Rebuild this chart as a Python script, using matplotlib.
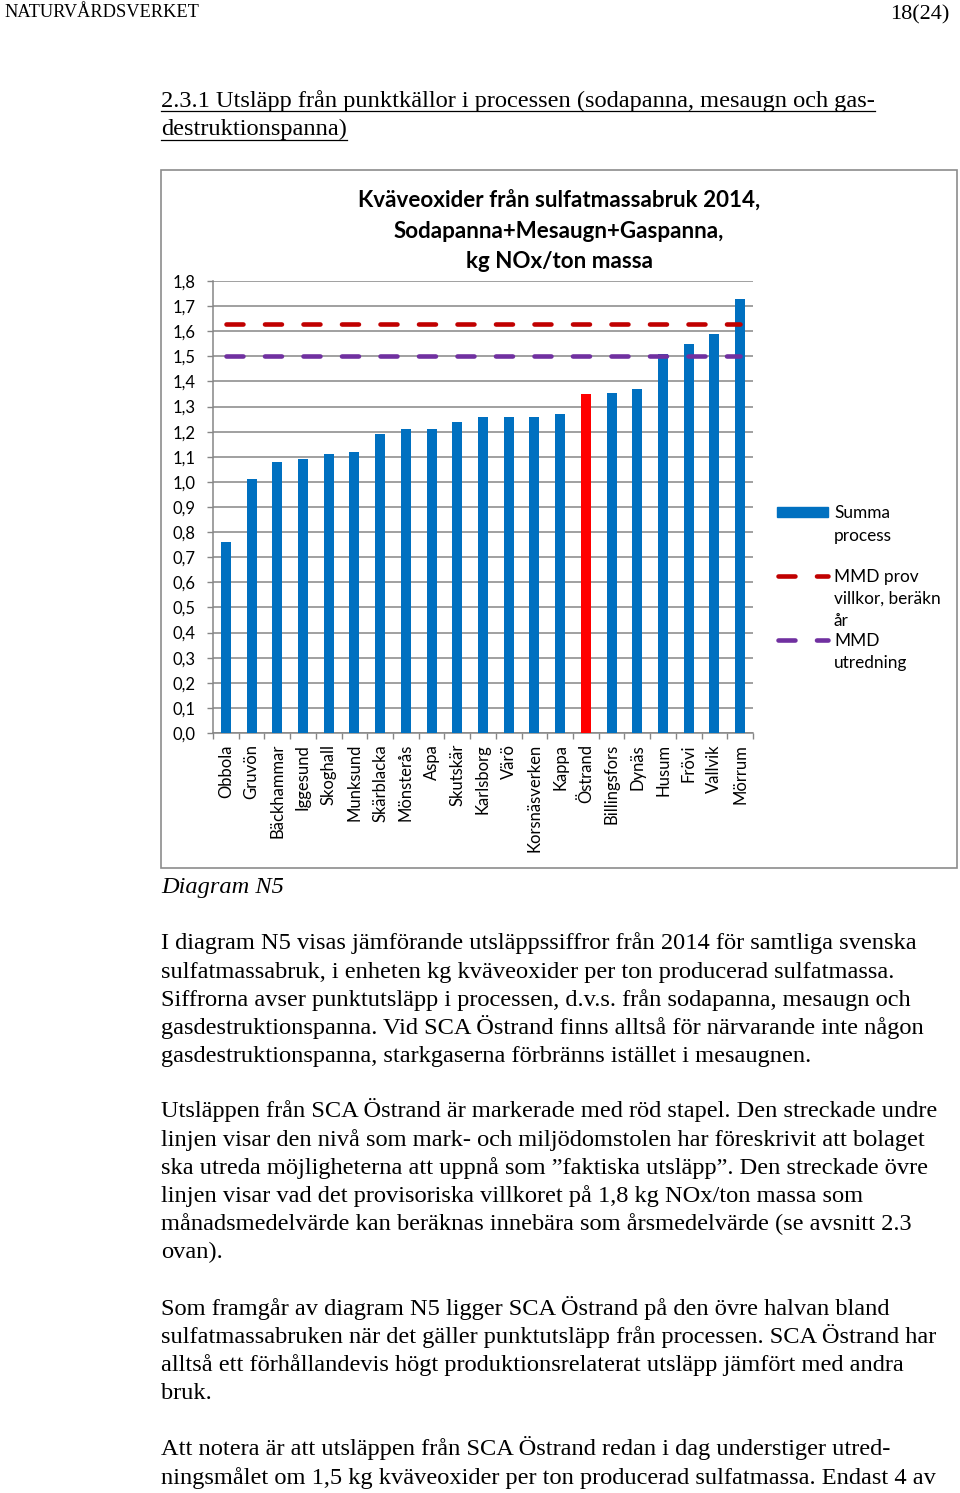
import matplotlib
matplotlib.use("Agg")
import matplotlib.pyplot as plt
from matplotlib.patches import Rectangle
from matplotlib.lines import Line2D
import numpy as np

# data
bruk = ["Obbola", "Gruvön", "Bäckhammar", "Iggesund", "Skoghall", "Munksund",
        "Skärblacka", "Mönsterås", "Aspa", "Skutskär", "Karlsborg", "Värö",
        "Korsnäsverken", "Kappa", "Östrand", "Billingsfors", "Dynäs", "Husum",
        "Frövi", "Vallvik", "Mörrum"]
summa_process = [0.76, 1.01, 1.08, 1.09, 1.11, 1.12, 1.19, 1.21, 1.21, 1.24,
                 1.26, 1.26, 1.26, 1.27, 1.35, 1.355, 1.37, 1.51, 1.55, 1.59, 1.73]
mmd_prov = [1.63] * len(bruk)
mmd_utredning = [1.50] * len(bruk)
markerat = "Östrand"
yticks = [0.0, 0.1, 0.2, 0.3, 0.4, 0.5, 0.6, 0.7, 0.8, 0.9,
          1.0, 1.1, 1.2, 1.3, 1.4, 1.5, 1.6, 1.7, 1.8]

titel = ["Kväveoxider från sulfatmassabruk 2014,",
         "Sodapanna+Mesaugn+Gaspanna,",
         "kg NOx/ton massa"]
rubrik = ["2.3.1 Utsläpp från punktkällor i processen (sodapanna, mesaugn och gas-",
          "destruktionspanna)"]
stycken = [
    ["I diagram N5 visas jämförande utsläppssiffror från 2014 för samtliga svenska",
     "sulfatmassabruk, i enheten kg kväveoxider per ton producerad sulfatmassa.",
     "Siffrorna avser punktutsläpp i processen, d.v.s. från sodapanna, mesaugn och",
     "gasdestruktionspanna. Vid SCA Östrand finns alltså för närvarande inte någon",
     "gasdestruktionspanna, starkgaserna förbränns istället i mesaugnen."],
    ["Utsläppen från SCA Östrand är markerade med röd stapel. Den streckade undre",
     "linjen visar den nivå som mark- och miljödomstolen har föreskrivit att bolaget",
     "ska utreda möjligheterna att uppnå som ”faktiska utsläpp”. Den streckade övre",
     "linjen visar vad det provisoriska villkoret på 1,8 kg NOx/ton massa som",
     "månadsmedelvärde kan beräknas innebära som årsmedelvärde (se avsnitt 2.3",
     "ovan)."],
    ["Som framgår av diagram N5 ligger SCA Östrand på den övre halvan bland",
     "sulfatmassabruken när det gäller punktutsläpp från processen. SCA Östrand har",
     "alltså ett förhållandevis högt produktionsrelaterat utsläpp jämfört med andra",
     "bruk."],
    ["Att notera är att utsläppen från SCA Östrand redan i dag understiger utred-",
     "ningsmålet om 1,5 kg kväveoxider per ton producerad sulfatmassa. Endast 4 av"],
]
stycke_start = [942, 1110, 1307, 1448]

W, H = 960, 1493
BLA = "#0070C0"
ROD_STAPEL = "#FF0000"
ROD = "#C00000"
LILA = "#7030A0"
GRA = "#868686"
SERIF = "Liberation Serif"
SANS = "Lato"
BROD = 17.6
AXEL = 12


def fx(x):
    return x / W


def fy(y):
    return 1 - y / H


fig = plt.figure(figsize=(W / 100, H / 100), dpi=100)
fig.patch.set_facecolor("white")

# sidhuvud
fig.text(fx(4), fy(17), "NATURVÅRDSVERKET", family=SERIF, fontsize=13.2, va="baseline")
fig.text(fx(949), fy(19), "18(24)", family=SERIF, fontsize=16, ha="right", va="baseline")

# rubrik med understrykning
rubrik_text = []
for i, rad in enumerate(rubrik):
    t = fig.text(fx(161), fy(107 + 28 * i), rad, family=SERIF, fontsize=BROD, va="baseline")
    rubrik_text.append(t)

# diagramram
fig.add_artist(Rectangle((fx(161), fy(868)), fx(957) - fx(161), (868 - 170) / H,
                         transform=fig.transFigure, fill=False, edgecolor="#8C8C8C", lw=1.2))

ax = fig.add_axes([fx(213), fy(733), fx(753) - fx(213), (733 - 281) / H])
x = np.arange(len(bruk))
farger = [ROD_STAPEL if b == markerat else BLA for b in bruk]
ax.bar(x, summa_process, width=0.39, color=farger, zorder=3)
ax.plot(x, mmd_prov, color=ROD, lw=3.3, dashes=(3.7, 4.7), dash_capstyle="round", zorder=4)
ax.plot(x, mmd_utredning, color=LILA, lw=3.3, dashes=(3.7, 4.7), dash_capstyle="round", zorder=4)

ax.set_xlim(-0.5, len(bruk) - 0.5)
ax.set_ylim(0, 1.8)
ax.set_yticks(yticks)
ax.set_yticklabels([f"{v:.1f}".replace(".", ",") for v in yticks], family=SANS, fontsize=AXEL)
ax.set_xticks(x)
ax.set_xticklabels(bruk, rotation=90, family=SANS, fontsize=AXEL, va="top")
ax.set_xticks(np.arange(-0.5, len(bruk), 1), minor=True)
ax.tick_params(axis="x", which="major", length=0, pad=8)
ax.tick_params(axis="x", which="minor", length=4, color=GRA, width=1)
ax.tick_params(axis="y", length=4.3, color=GRA, width=1, pad=8)
ax.yaxis.grid(True, color=GRA, lw=1.1, zorder=0)
ax.set_axisbelow(True)
for s in ["top", "right"]:
    ax.spines[s].set_visible(False)
for s in ["left", "bottom"]:
    ax.spines[s].set_color(GRA)
    ax.spines[s].set_linewidth(1.1)

for i, rad in enumerate(titel):
    fig.text(fx(559), fy(208 + 30 * i), rad, family=SANS, fontweight="bold", fontsize=16.1,
             ha="center", va="baseline")

# teckenförklaring
fig.add_artist(Rectangle((fx(777), fy(517)), fx(828) - fx(777), 10 / H,
                         transform=fig.transFigure, color=BLA))
for yk, farg in [(575.5, ROD), (639.5, LILA)]:
    fig.add_artist(Line2D([fx(777.5), fx(828)], [fy(yk), fy(yk)], transform=fig.transFigure,
                          color=farg, lw=3.3, dashes=(3.7, 4.7), dash_capstyle="round"))
legend_rader = [("Summa", 511.5), ("process", 534), ("MMD prov", 575.5),
                ("villkor, beräkn", 597.5), ("år", 619.5), ("MMD", 639.5), ("utredning", 661.5)]
for txt, yy in legend_rader:
    fig.text(fx(834), fy(yy), txt, family=SANS, fontsize=12.4, va="center_baseline")

# figurtext
fig.text(fx(161), fy(893), "Diagram N5", family=SERIF, style="italic", fontsize=BROD, va="baseline")

# brödtext
for start, rader in zip(stycke_start, stycken):
    for i, rad in enumerate(rader):
        fig.text(fx(161), fy(start + 7.5 + 28.2 * i), rad, family=SERIF, fontsize=BROD,
                 va="baseline")

# understrykning under rubriken
r = fig.canvas.get_renderer()
for i, t in enumerate(rubrik_text):
    bb = t.get_window_extent(r)
    yl = 111 + 28.5 * i
    fig.add_artist(Line2D([bb.x0 / W, bb.x1 / W], [fy(yl), fy(yl)], transform=fig.transFigure,
                          color="black", lw=0.9))

fig.savefig("out.png", dpi=100, facecolor="white")
